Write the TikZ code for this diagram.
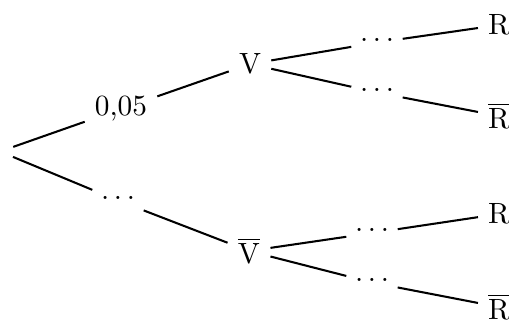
\documentclass[tikz,border=0pt]{standalone}
\usepackage{amsmath}
\usepackage{tikz}
\usetikzlibrary{positioning}

\newcommand{\gapdots}{.\hspace{1.6pt}.\hspace{1.6pt}.}

\begin{document}
\begin{tikzpicture}[
  x=0.012cm, y=-0.012cm,
  event/.style={inner sep=3.3pt},
  prob/.style={inner sep=3.3pt},
  blank/.style={inner sep=2.8pt, text height=1pt, text depth=2pt},
  branch/.style={line width=0.7pt}
]
  \useasboundingbox (0,0) rectangle (509,322);
  % root and first level
  \node[circle, inner sep=0pt, minimum size=9.2pt] (root) at (0,151.5) {};
  \node[prob] (pV) at (121,109) {0,05};
  \node[blank] (pVb) at (118,200.5) {\gapdots};
  \node[event] (V) at (250,64) {V};
  \node[event] (Vb) at (249,251) {$\overline{\mathrm{V}}$};
  % second level
  \node[blank] (pVR) at (377,42.5) {\gapdots};
  \node[blank] (pVRb) at (377,92.5) {\gapdots};
  \node[blank] (pVbR) at (372,233) {\gapdots};
  \node[blank] (pVbRb) at (372,282.5) {\gapdots};
  \node[event] (VR) at (499,25) {R};
  \node[event] (VRb) at (499,116) {$\overline{\mathrm{R}}$};
  \node[event] (VbR) at (499,214) {R};
  \node[event] (VbRb) at (499,307) {$\overline{\mathrm{R}}$};
  \draw[branch] (root) -- (pV);
  \draw[branch] (pV) -- (V);
  \draw[branch] (root) -- (pVb);
  \draw[branch] (pVb) -- (Vb);
  \draw[branch] (V) -- (pVR);
  \draw[branch] (pVR) -- (VR);
  \draw[branch] (V) -- (pVRb);
  \draw[branch] (pVRb) -- (VRb);
  \draw[branch] (Vb) -- (pVbR);
  \draw[branch] (pVbR) -- (VbR);
  \draw[branch] (Vb) -- (pVbRb);
  \draw[branch] (pVbRb) -- (VbRb);
\end{tikzpicture}
\end{document}
